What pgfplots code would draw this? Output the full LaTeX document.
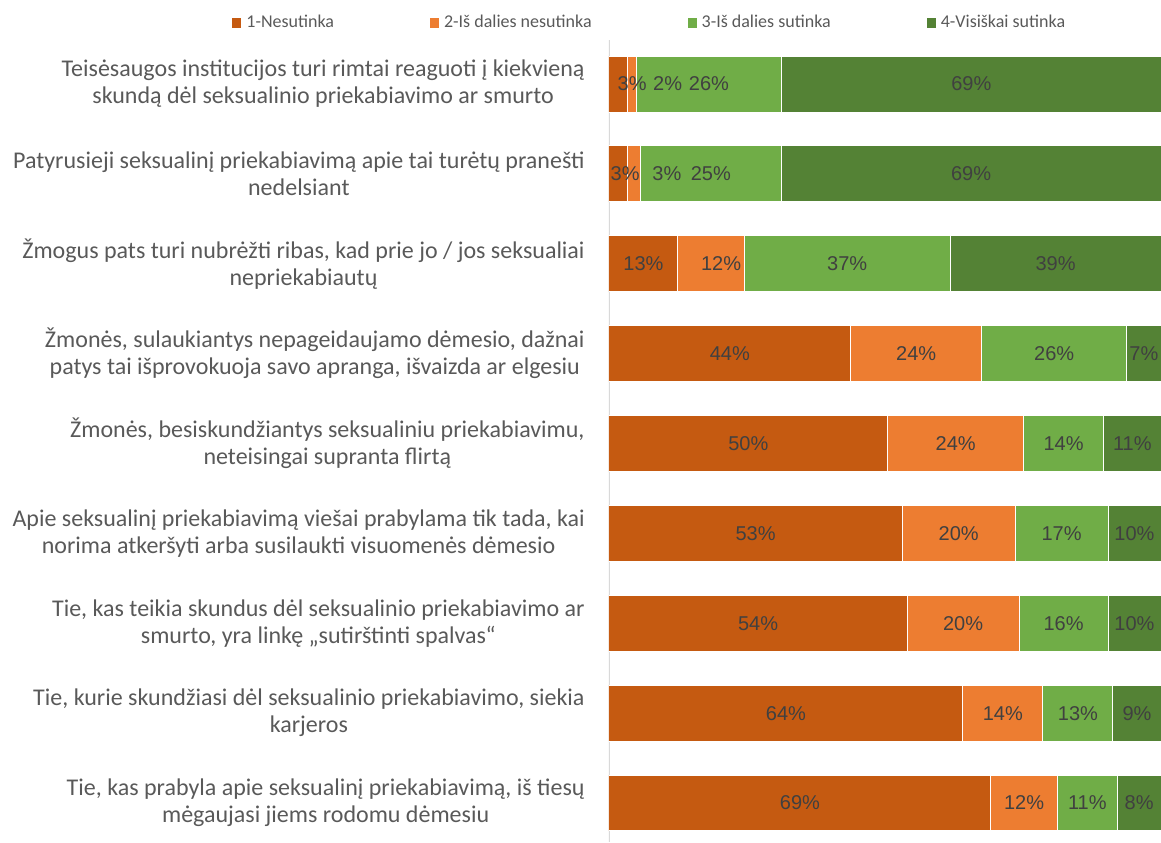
\documentclass[border=0pt]{standalone}
\usepackage{pgfplots}
\pgfplotsset{compat=1.18}
\usepackage{pgfplotstable}
\usepackage{fontspec}
\setmainfont{Carlito}
\newfontfamily\arialf{Liberation Sans}
\definecolor{c1}{HTML}{C55A11}
\definecolor{c2}{HTML}{ED7D31}
\definecolor{c3}{HTML}{70AD47}
\definecolor{c4}{HTML}{548235}
\definecolor{tickgray}{HTML}{595959}
\definecolor{labgray}{HTML}{404040}
\definecolor{axgray}{HTML}{D9D9D9}

\pgfplotstableread{
y v lab dx
9 3.3 3 7
8 3.3 3 3.5
7 12.5 13 0
6 43.8 44 0
5 50.5 50 0
4 53.1 53 0
3 54.0 54 0
2 64.1 64 0
1 69.2 69 0
}\sA
\pgfplotstableread{
y v lab dx
9 1.6 2 18
8 2.4 3 16.5
7 12.0 12 5
6 23.7 24 0
5 24.6 24 0
4 20.5 20 0
3 20.3 20 0
2 14.5 14 0
1 12.0 12 0
}\sB
\pgfplotstableread{
y v lab dx
9 26.4 26 0
8 25.5 25 0
7 37.3 37 0
6 26.3 26 0
5 14.5 14 0
4 16.8 17 0
3 16.1 16 0
2 12.7 13 0
1 10.9 11 0
}\sC
\pgfplotstableread{
y v lab dx
9 68.7 69 0
8 68.8 69 0
7 38.2 39 0
6 6.2 7 0
5 10.4 11 0
4 9.6 10 0
3 9.6 10 0
2 8.7 9 0
1 7.9 8 0
}\sD

\begin{document}
\begin{tikzpicture}
\begin{axis}[
  scale only axis, width=276pt, height=401pt,
  xbar stacked, bar width=0.623,
  xmin=0, xmax=100, ymin=0.566, ymax=9.49,
  axis line style={draw=none},
  xtick=\empty, ytick={1,...,9}, major tick length=0pt,
  yticklabels={
    {Tie, kas prabyla apie seksualinį priekabiavimą, iš tiesų\\mėgaujasi jiems rodomu dėmesiu},
    {Tie, kurie skundžiasi dėl seksualinio priekabiavimo, siekia\\karjeros},
    {Tie, kas teikia skundus dėl seksualinio priekabiavimo ar\\smurto, yra linkę „sutirštinti spalvas“},
    {Apie seksualinį priekabiavimą viešai prabylama tik tada, kai\\norima atkeršyti arba susilaukti visuomenės dėmesio},
    {Žmonės, besiskundžiantys seksualiniu priekabiavimu,\\neteisingai supranta flirtą},
    {Žmonės, sulaukiantys nepageidaujamo dėmesio, dažnai\\patys tai išprovokuoja savo apranga, išvaizda ar elgesiu},
    {Žmogus pats turi nubrėžti ribas, kad prie jo / jos seksualiai\\nepriekabiautų},
    {Patyrusieji seksualinį priekabiavimą apie tai turėtų pranešti\\nedelsiant},
    {Teisėsaugos institucijos turi rimtai reaguoti į kiekvieną\\skundą dėl seksualinio priekabiavimo ar smurto}
  },
  yticklabel style={align=center, font=\fontsize{12}{13.5}\selectfont, text=tickgray, inner sep=0pt, xshift=-12pt},
  legend style={draw=none, fill=none, at={(-0.6848,1.0212)}, anchor=west, inner sep=0pt,
    font=\fontsize{9}{11}\selectfont, text=tickgray,
    /tikz/every even column/.append style={column sep=45.5pt}},
  legend columns=4,
  legend cell align=left,
  legend image code/.code={\fill[#1] (0pt,-2.75pt) rectangle (5pt,2.75pt);},
  point meta=explicit symbolic,
  nodes near coords={\pgfplotspointmeta\%},
  visualization depends on={\thisrow{dx} \as \dx},
  every node near coord/.append style={font=\arialf\fontsize{10}{12}\selectfont, text=labgray, anchor=center, xshift=\dx pt},
]
\addplot[fill=c1, draw=white, line width=0.5pt] table[x=v, y=y, meta=lab] {\sA};
\addlegendentry{1-Nesutinka}
\addplot[fill=c2, draw=white, line width=0.5pt] table[x=v, y=y, meta=lab] {\sB};
\addlegendentry{2-Iš dalies nesutinka}
\addplot[fill=c3, draw=white, line width=0.5pt] table[x=v, y=y, meta=lab] {\sC};
\addlegendentry{3-Iš dalies sutinka}
\addplot[fill=c4, draw=white, line width=0.5pt] table[x=v, y=y, meta=lab] {\sD};
\addlegendentry{4-Visiškai sutinka}
\draw[axgray, line width=0.75pt] (axis description cs:0,0) -- (axis description cs:0,1);
\end{axis}
\pgfresetboundingbox
\useasboundingbox ([xshift=-304.5pt]current axis.south west) rectangle ([yshift=20pt]current axis.north east);
\end{tikzpicture}
\end{document}
